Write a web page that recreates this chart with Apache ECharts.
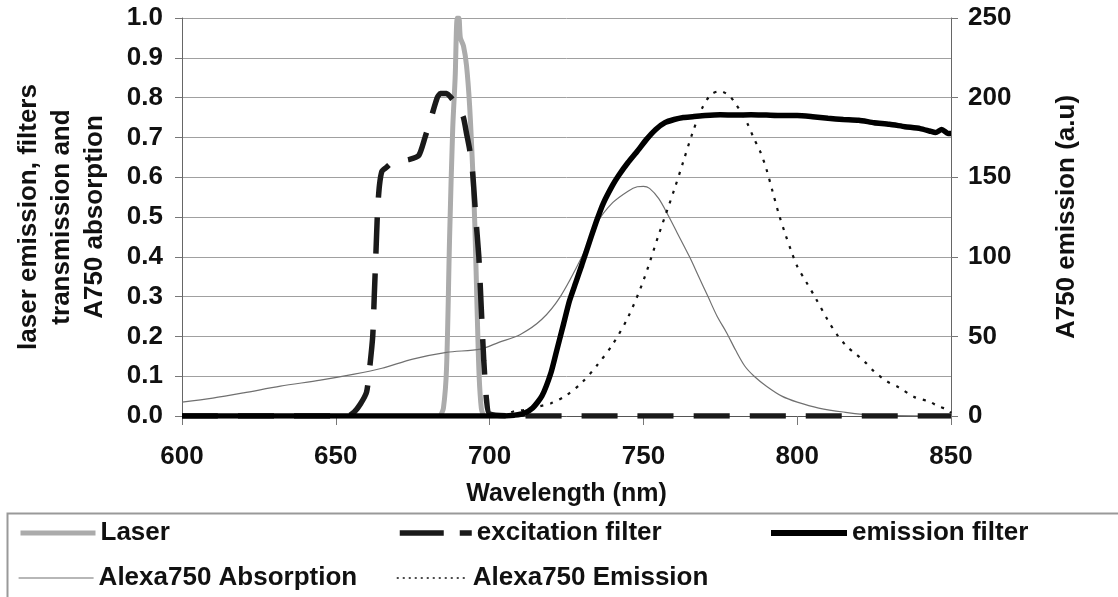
<!DOCTYPE html>
<html><head><meta charset="utf-8">
<script src="https://cdn.jsdelivr.net/npm/echarts@6/dist/echarts.min.js"></script>
<style>html,body{margin:0;padding:0;background:#fff}#c{width:1118px;height:597px}</style>
</head><body><div id="c"></div>
<script>
// ---- data (wavelength in nm) ----
const laserWl  = [684, 685, 686, 687, 688, 688.8, 689.5, 690, 690.5, 691.5, 692.5, 693.5, 694.5, 695.2, 696, 696.6, 697.3, 698];
const laserVal = [0, 0.02, 0.12, 0.45, 0.72, 0.85, 1.0, 1.0, 0.95, 0.93, 0.88, 0.78, 0.62, 0.48, 0.25, 0.1, 0.02, 0];

const excWl  = [600, 654, 656, 658, 660, 661, 662, 662.5, 663, 663.6, 664.2, 665, 666.5, 668, 670, 674, 677, 679, 681, 683, 684, 686, 688, 690, 691.5, 692.5, 693.5, 694.5, 695.5, 696.5, 697.3, 698.1, 699, 700, 710, 850];
const excVal = [0, 0, 0.01, 0.03, 0.06, 0.12, 0.2, 0.3, 0.4, 0.52, 0.58, 0.615, 0.625, 0.635, 0.64, 0.645, 0.655, 0.7, 0.75, 0.8, 0.81, 0.81, 0.795, 0.775, 0.75, 0.71, 0.67, 0.61, 0.5, 0.4, 0.27, 0.14, 0.04, 0.005, 0, 0];

const emfWl  = [600, 705, 708, 711, 714, 717, 720, 722, 724, 726, 728, 730, 733, 735, 737, 740, 742, 745, 748, 751, 754, 757, 760, 763, 766, 770, 775, 780, 785, 790, 795, 800, 805, 810, 815, 820, 825, 830, 835, 840, 843, 845, 847, 849, 850];
const emfVal = [0, 0, 0.002, 0.006, 0.02, 0.05, 0.11, 0.17, 0.23, 0.29, 0.335, 0.38, 0.45, 0.495, 0.535, 0.58, 0.605, 0.637, 0.665, 0.695, 0.72, 0.737, 0.745, 0.75, 0.752, 0.755, 0.757, 0.756, 0.757, 0.756, 0.755, 0.755, 0.752, 0.748, 0.745, 0.743, 0.737, 0.733, 0.727, 0.722, 0.716, 0.712, 0.72, 0.71, 0.71];

const absWl  = [600, 610, 620, 632, 645, 656, 665, 675, 686, 697, 703, 710, 717, 723, 730, 735, 740, 745, 748, 750, 752, 755, 758, 761, 765, 768, 771, 774, 777, 780, 783, 786, 790, 795, 800, 807, 815, 825, 850];
const absVal = [0.035, 0.045, 0.058, 0.075, 0.09, 0.105, 0.12, 0.143, 0.16, 0.168, 0.185, 0.205, 0.243, 0.3, 0.4, 0.486, 0.536, 0.565, 0.576, 0.577, 0.572, 0.546, 0.505, 0.46, 0.4, 0.35, 0.3, 0.25, 0.21, 0.165, 0.125, 0.1, 0.075, 0.05, 0.035, 0.02, 0.01, 0.002, 0];

const aemWl  = [704, 708, 712, 716, 720, 725, 730, 735, 740, 745, 750, 755, 760, 763, 766, 769, 772, 775, 778, 780, 782, 784, 786, 788, 790, 792, 794, 796, 798, 800, 803, 806, 810, 813, 816, 819, 822, 825, 829, 833, 838, 843, 846, 849, 850];
const aemVal = [0, 3, 4, 6, 8, 13, 21, 32, 45, 62, 85, 114, 142, 160, 178, 193, 202, 204, 201, 196, 190, 183, 174, 166, 155, 141, 127, 115, 104, 94, 84, 74, 60, 51, 44, 39, 34, 28, 22, 18, 12, 9, 6, 4, 2];

const seriesNames = ['Laser', 'excitation filter', 'emission filter', 'Alexa750 Absorption', 'Alexa750 Emission'];
const leftAxisName = 'laser emission, filters\ntransmission and\nA750 absorption';
const rightAxisName = 'A750 emission (a.u)';
const xAxisName = 'Wavelength (nm)';

const pairs = (xs, ys) => xs.map((x, i) => [x, ys[i]]);
const FONT = '"Liberation Sans", Arial, sans-serif';
const txt = {fontFamily: FONT, fontWeight: 'bold', color: '#111'};

// line styles shared by series and legend icons
const styles = {
  laser: {color: '#ababab', width: 5},
  exc:   {color: '#1a1a1a', width: 5.5, type: [36, 20]},
  emf:   {color: '#000', width: 5.5},
  abs:   {color: '#707070', width: 1.2},
  aem:   {color: '#111', width: 2.2, type: [3, 7]}
};

const chart = echarts.init(document.getElementById('c'), null, {renderer: 'canvas'});

function legendAt(name, left, top, w, ls) {
  return {
    data: [name], left: left, top: top, orient: 'horizontal', padding: 0,
    itemWidth: w, itemHeight: 14, itemGap: 0, selectedMode: false,
    lineStyle: Object.assign({opacity: 1}, ls), itemStyle: {opacity: 0},
    textStyle: Object.assign({fontSize: 26}, txt)
  };
}

const option = {
  animation: false,
  backgroundColor: '#fff',
  grid: {left: 182, right: 167, top: 18, bottom: 181},
  xAxis: {
    type: 'value', min: 600, max: 850, interval: 50,
    name: xAxisName, nameLocation: 'middle', nameGap: 66,
    nameTextStyle: Object.assign({fontSize: 25}, txt),
    axisLine: {show: true, onZero: false, lineStyle: {color: '#555', width: 1}},
    axisTick: {show: true, length: 9, lineStyle: {color: '#777'}},
    axisLabel: Object.assign({fontSize: 26, margin: 28}, txt),
    splitLine: {show: false}
  },
  yAxis: [
    {
      type: 'value', min: 0, max: 1, interval: 0.1, position: 'left',
      name: leftAxisName, nameLocation: 'middle', nameRotate: 90, nameGap: 71,
      nameTextStyle: Object.assign({fontSize: 26, lineHeight: 33, align: 'center'}, txt),
      axisLine: {show: true, lineStyle: {color: '#666', width: 1}},
      axisTick: {show: true, length: 7, lineStyle: {color: '#777'}},
      axisLabel: Object.assign({fontSize: 26, margin: 19, formatter: v => v.toFixed(1)}, txt),
      splitLine: {show: true, lineStyle: {color: '#a0a0a0', width: 1}}
    },
    {
      type: 'value', min: 0, max: 250, interval: 50, position: 'right',
      name: rightAxisName, nameLocation: 'middle', nameRotate: 90, nameGap: 103,
      nameTextStyle: Object.assign({fontSize: 26}, txt),
      axisLine: {show: true, lineStyle: {color: '#666', width: 1}},
      axisTick: {show: true, length: 7, lineStyle: {color: '#777'}},
      axisLabel: Object.assign({fontSize: 26, margin: 17}, txt),
      splitLine: {show: false}
    }
  ],
  legend: [
    legendAt(seriesNames[0], 18, 520, 75, styles.laser),
    legendAt(seriesNames[1], 397, 520, 72, {color: '#1a1a1a', width: 5.5, type: [44, 16]}),
    legendAt(seriesNames[2], 768, 520, 76, {color: '#000', width: 6}),
    legendAt(seriesNames[3], 18, 565, 75, styles.abs),
    legendAt(seriesNames[4], 396, 565, 71, {color: '#111', width: 1.5, type: [2, 4]})
  ],
  graphic: [{
    type: 'rect', left: 5, top: 511, silent: true,
    shape: {width: 1130, height: 100},
    style: {fill: 'none', stroke: '#999', lineWidth: 2}
  }],
  series: [
    {name: seriesNames[0], type: 'line', yAxisIndex: 0, data: pairs(laserWl, laserVal), symbol: 'none', smooth: 0.3,
     lineStyle: styles.laser, itemStyle: {color: styles.laser.color}},
    {name: seriesNames[3], type: 'line', yAxisIndex: 0, data: pairs(absWl, absVal), symbol: 'none', smooth: 0.3,
     lineStyle: styles.abs, itemStyle: {color: styles.abs.color}},
    {name: seriesNames[4], type: 'line', yAxisIndex: 1, data: pairs(aemWl, aemVal), symbol: 'none', smooth: 0.3,
     lineStyle: styles.aem, itemStyle: {color: styles.aem.color}},
    {name: seriesNames[1], type: 'line', yAxisIndex: 0, data: pairs(excWl, excVal), symbol: 'none', smooth: 0.2,
     lineStyle: styles.exc, itemStyle: {color: styles.exc.color}},
    {name: seriesNames[2], type: 'line', yAxisIndex: 0, data: pairs(emfWl, emfVal), symbol: 'none', smooth: 0.2,
     lineStyle: styles.emf, itemStyle: {color: styles.emf.color}}
  ]
};
chart.setOption(option);
</script>
</body></html>
